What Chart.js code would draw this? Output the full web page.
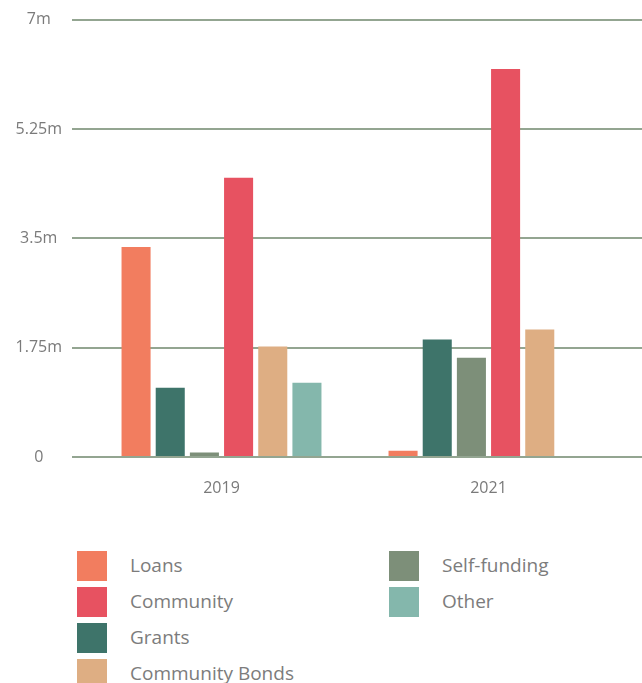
<!DOCTYPE html>
<html>
<head>
<meta charset="utf-8">
<script src="https://cdn.jsdelivr.net/npm/chart.js@4"></script>
<style>
  body { margin: 0; background: #fff; font-family: "Open Sans", sans-serif; }
  #wrap { position: relative; width: 642px; height: 683px; overflow: hidden; }
  #c1 { position: absolute; left: 0; top: 0; }
  #legend { position: absolute; left: 77px; top: 551px; width: 560px; }
  .col { position: absolute; top: 0; }
  .item { height: 36px; position: relative; }
  .sw { position: absolute; left: 0; top: 0; width: 30px; height: 30px; }
  .lb { position: absolute; left: 53px; top: 2px; font-size: 19px; color: #7c7c7c; white-space: nowrap; line-height: 24px; }
</style>
</head>
<body>
<div id="wrap">
  <canvas id="c1" width="642" height="505"></canvas>
  <div id="legend"></div>
</div>
<script>
"use strict";

// years on the x axis
let years = ['2019', '2021'];

// series, values in dollars
let loans = [3360000, 100000];
let grants = [1110000, 1880000];
let selfFunding = [72000, 1590000];
let community = [4470000, 6210000];
let bonds = [1770000, 2040000];
let other = [1190000, null];

let yTicks = [0, 1750000, 3500000, 5250000, 7000000];

let gridColor = 'rgba(120,142,118,0.8)';
let txtColor = '#7a7a7a';

let sets = [
    {label: 'Loans', data: loans, backgroundColor: '#F27D5F'},
    {label: 'Grants', data: grants, backgroundColor: '#3E746A'},
    {label: 'Self-funding', data: selfFunding, backgroundColor: '#7D8F79'},
    {label: 'Community', data: community, backgroundColor: '#E75261'},
    {label: 'Community Bonds', data: bonds, backgroundColor: '#DEAE83'},
    {label: 'Other', data: other, backgroundColor: '#84B7AC'},
];

let c1 = document.querySelector('#c1');

let opts = {
    type: 'bar',
    data: {
        labels: years,
        datasets: sets.map(s => ({
            label: s.label,
            data: s.data,
            backgroundColor: s.backgroundColor,
            borderWidth: 0,
            barPercentage: 0.85,
            categoryPercentage: 0.768,
        })),
    },
    options: {
        responsive: false,
        animation: false,
        layout: {padding: {top: 0, bottom: 8, left: 0, right: 0}},
        plugins: {legend: {display: false}, tooltip: {enabled: false}},
        scales: {
            x: {
                grid: {display: false},
                border: {display: false},
                afterFit: s => { s.height = 40; },
                ticks: {color: txtColor, font: {family: 'Open Sans', size: 16}, padding: 14},
            },
            y: {
                min: 0,
                max: 7000000,
                afterBuildTicks: s => { s.ticks = yTicks.map(v => ({value: v})); },
                afterFit: s => { s.width = 88; },
                border: {display: false},
                grid: {color: gridColor, lineWidth: 2, tickLength: 16, tickColor: gridColor},
                ticks: {
                    color: txtColor,
                    font: {family: 'Open Sans', size: 16},
                    padding: 10,
                    crossAlign: 'center',
                    callback: v => v === 0 ? '0' : (v / 1000000) + 'm',
                },
            },
            y2: {
                position: 'right',
                min: 0,
                max: 7000000,
                afterBuildTicks: s => { s.ticks = yTicks.map(v => ({value: v})); },
                afterFit: s => { s.width = 20; },
                border: {display: false},
                grid: {drawOnChartArea: false, color: gridColor, lineWidth: 2, tickLength: 20, tickColor: gridColor},
                ticks: {display: false},
            },
        },
    },
};

let chart1 = new Chart(c1, opts);

// legend: two columns, same order as the picture
let cols = [
    ['Loans', 'Community', 'Grants', 'Community Bonds'],
    ['Self-funding', 'Other'],
];
let lg = document.querySelector('#legend');
cols.forEach((names, i) => {
    let col = document.createElement('div');
    col.className = 'col';
    col.style.left = (i * 312) + 'px';
    names.forEach(n => {
        let s = sets.find(x => x.label === n);
        let it = document.createElement('div');
        it.className = 'item';
        it.innerHTML = `<div class="sw" style="background:${s.backgroundColor}"></div><div class="lb">${n}</div>`;
        col.appendChild(it);
    });
    lg.appendChild(col);
});
</script>
</body>
</html>
